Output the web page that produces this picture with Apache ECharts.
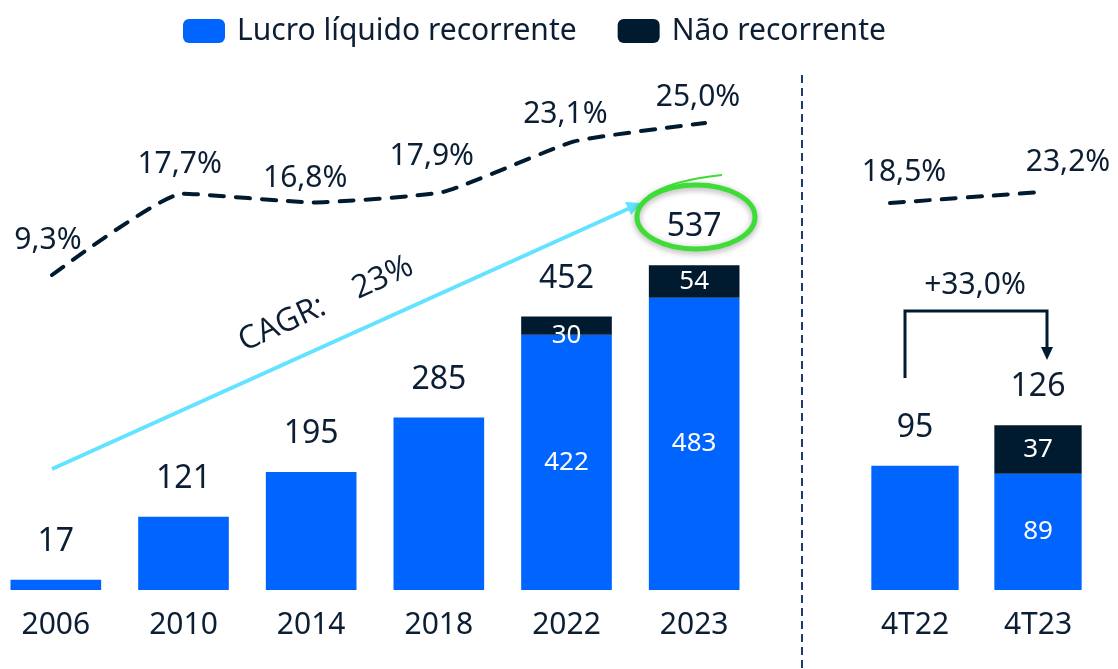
<!DOCTYPE html>
<html><head><meta charset="utf-8">
<script src="https://cdn.jsdelivr.net/npm/echarts@6/dist/echarts.min.js"></script>
<style>html,body{margin:0;padding:0;background:#fff}#c{width:1118px;height:669px}</style>
</head><body><div id="c"></div>
<script>
// ---- data ----
const periods = ['2006', '2010', '2014', '2018', '2022', '2023'];
const recurring = [17, 121, 195, 285, 422, 483];
const nonRecurring = [null, null, null, null, 30, 54];
const totals = [17, 121, 195, 285, 452, 537];
const margins = [9.3, 17.7, 16.8, 17.9, 23.1, 25.0];

const quarters = ['4T22', '4T23'];
const qRecurring = [95, 89];
const qNonRecurring = [null, 37];
const qTotals = [95, 126];
const qMargins = [18.5, 23.2];

const legendNames = ['Lucro líquido recorrente', 'Não recorrente'];
const cagrText = 'CAGR:    23%';
const growthText = '+33,0%';

// ---- styles ----
const BLUE = '#0064FF', DARK = '#001A30', TXT = '#0C1E33';
const FONT = 'Noto Sans';
const marginLabelOffsets = [[-4, -35], [-3, -29], [-8, -24], [-12, -35], [-9, -27], [-7, -26]];
const qMarginLabelOffsets = [[14, -31], [26, -30]];
const pct = v => v.toFixed(1).replace('.', ',') + '%';

function recurringData(rec, non) {
  return rec.map((v, i) => ({
    value: v,
    label: { show: non[i] != null }
  }));
}
function nonData(non, offsets) {
  return non.map((v, i) => ({
    value: v,
    label: { show: v != null, offset: offsets[i] || [0, 0] }
  }));
}
function lineData(vals, offs) {
  return vals.map((v, i) => ({ value: v, label: { offset: offs[i] } }));
}

const chart = echarts.init(document.getElementById('c'), null, { renderer: 'canvas' });

const barLabelInside = { position: 'inside', color: '#fff', fontSize: 26, fontFamily: FONT };
const totalLabel = { show: true, position: 'top', distance: 22, color: TXT, fontSize: 32, fontFamily: FONT };
const lineLabel = { show: true, position: 'inside', color: TXT, fontSize: 30, fontFamily: FONT, formatter: p => pct(p.value) };
const lineStyle = { color: DARK, width: 4, type: [14, 12], cap: 'round' };

function mkLine(name, xi, yi, data) {
  return {
    name: name, type: 'line', xAxisIndex: xi, yAxisIndex: yi, data: data,
    smooth: 0.15, symbol: 'circle', symbolSize: 1, showSymbol: true,
    itemStyle: { color: 'rgba(0,0,0,0)' }, lineStyle: lineStyle, label: lineLabel,
    silent: true, z: 5
  };
}

const option = {
  animation: false,
  backgroundColor: '#fff',
  textStyle: { fontFamily: FONT },
  legend: {
    data: legendNames, left: 183, top: 16, padding: 0,
    itemWidth: 42, itemHeight: 24, itemGap: 41, icon: 'roundRect',
    textStyle: { fontSize: 30, color: TXT, fontFamily: FONT, padding: [0, 0, 0, 7] },
    selectedMode: false
  },
  grid: [
    { left: -8, width: 766, top: 100, bottom: 79, outerBoundsMode: 'none', containLabel: false },
    { left: 52, width: 653, top: 123, height: 152, outerBoundsMode: 'none' },
    { left: 853.5, width: 246, top: 100, bottom: 79, outerBoundsMode: 'none' },
    { left: 890, width: 152, top: 192, height: 11, outerBoundsMode: 'none' }
  ],
  xAxis: [
    { type: 'category', gridIndex: 0, data: periods, axisLine: { show: false }, axisTick: { show: false },
      axisLabel: { fontSize: 30, color: TXT, margin: 20, fontFamily: FONT } },
    { type: 'category', gridIndex: 1, data: periods, boundaryGap: false, show: false },
    { type: 'category', gridIndex: 2, data: quarters, axisLine: { show: false }, axisTick: { show: false },
      axisLabel: { fontSize: 30, color: TXT, margin: 20, fontFamily: FONT } },
    { type: 'category', gridIndex: 3, data: quarters, boundaryGap: false, show: false }
  ],
  yAxis: [
    { type: 'value', gridIndex: 0, min: 0, max: 810, show: false, splitLine: { show: false } },
    { type: 'value', gridIndex: 1, min: 9.3, max: 25.0, show: false, splitLine: { show: false } },
    { type: 'value', gridIndex: 2, min: 0, max: 375, show: false, splitLine: { show: false } },
    { type: 'value', gridIndex: 3, min: 18.5, max: 23.2, show: false, splitLine: { show: false } }
  ],
  series: [
    { name: legendNames[0], type: 'bar', xAxisIndex: 0, yAxisIndex: 0, stack: 'a', barWidth: '71%',
      itemStyle: { color: BLUE }, label: barLabelInside, data: recurringData(recurring, nonRecurring) },
    { name: legendNames[1], type: 'bar', xAxisIndex: 0, yAxisIndex: 0, stack: 'a', barWidth: '71%',
      itemStyle: { color: DARK }, label: barLabelInside,
      data: nonData(nonRecurring, [null, null, null, null, [0, 10], [0, 0]]) },
    { name: 'total', type: 'bar', xAxisIndex: 0, yAxisIndex: 0, barWidth: '71%', barGap: '-100%',
      itemStyle: { color: 'rgba(0,0,0,0)' }, label: totalLabel, data: totals, silent: true, z: 1 },
    mkLine('margem', 1, 1, lineData(margins, marginLabelOffsets)),

    { name: legendNames[0], type: 'bar', xAxisIndex: 2, yAxisIndex: 2, stack: 'b', barWidth: '71%',
      itemStyle: { color: BLUE }, label: barLabelInside, data: recurringData(qRecurring, qNonRecurring) },
    { name: legendNames[1], type: 'bar', xAxisIndex: 2, yAxisIndex: 2, stack: 'b', barWidth: '71%',
      itemStyle: { color: DARK }, label: barLabelInside, data: nonData(qNonRecurring, []) },
    { name: 'total', type: 'bar', xAxisIndex: 2, yAxisIndex: 2, barWidth: '71%', barGap: '-100%',
      itemStyle: { color: 'rgba(0,0,0,0)' }, label: totalLabel, data: qTotals, silent: true, z: 1 },
    mkLine('margem', 3, 3, lineData(qMargins, qMarginLabelOffsets))
  ],
  graphic: [
    // separator
    { type: 'line', shape: { x1: 802, y1: 75, x2: 802, y2: 669 },
      style: { stroke: '#1F3A6E', lineWidth: 2, lineDash: [8, 5] } },
    // CAGR arrow
    { type: 'line', shape: { x1: 52, y1: 469, x2: 630, y2: 208 },
      style: { stroke: '#62E3FF', lineWidth: 4 } },
    { type: 'polygon', shape: { points: [[641, 203], [631, 215], [625, 202]] },
      style: { fill: '#62E3FF' } },
    { type: 'text', x: 326, y: 304, rotation: 0.43,
      style: { text: cagrText, fill: TXT, font: '32px "Open Sans"', align: 'center', verticalAlign: 'middle' } },
    // green highlight ellipse
    { type: 'ellipse', shape: { cx: 696, cy: 217, rx: 59, ry: 32 },
      style: { fill: 'none', stroke: '#3EDC36', lineWidth: 5, shadowBlur: 6, shadowColor: 'rgba(0,0,0,0.35)', shadowOffsetY: 2 } },
    { type: 'bezierCurve', shape: { x1: 648, y1: 196, cpx1: 672, cpy1: 180, x2: 722, y2: 175 },
      style: { fill: 'none', stroke: '#3EDC36', lineWidth: 2 } },
    // growth bracket
    { type: 'polyline', shape: { points: [[905, 378], [905, 311], [1047, 311], [1047, 350]] },
      style: { fill: 'none', stroke: DARK, lineWidth: 3 } },
    { type: 'polygon', shape: { points: [[1041, 347], [1053, 347], [1047, 360]] },
      style: { fill: DARK } },
    { type: 'text', x: 975, y: 285,
      style: { text: growthText, fill: TXT, font: '30px "Noto Sans"', align: 'center', verticalAlign: 'middle' } }
  ]
};
chart.setOption(option);
</script>
</body></html>
